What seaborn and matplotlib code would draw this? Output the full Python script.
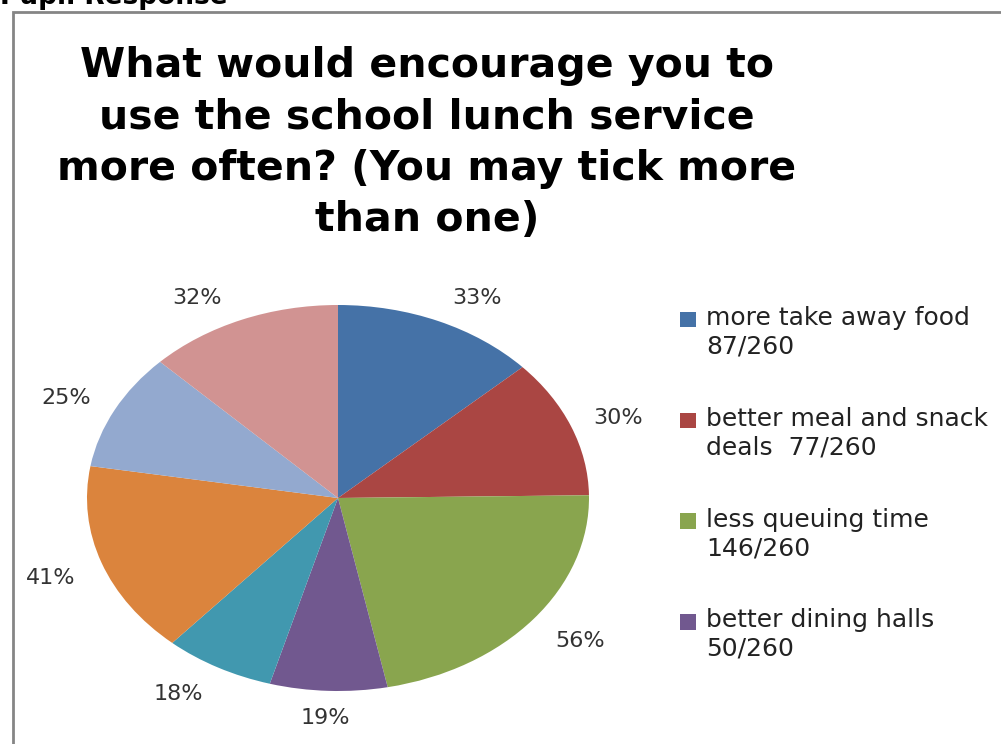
import matplotlib
matplotlib.use("Agg")
import matplotlib.pyplot as plt
import matplotlib.patches as mpatches
from matplotlib.legend_handler import HandlerBase
import seaborn as sns
import numpy as np

# ---- data ----
categories = ["more take away food", "better meal and snack deals", "less queuing time",
              "better dining halls", "option 5", "option 6", "option 7", "option 8"]
counts = [87, 77, 146, 50, 47, 107, 65, 83]
respondents = 260
legend_labels = ["more take away food\n87/260", "better meal and snack\ndeals  77/260",
                 "less queuing time\n146/260", "better dining halls\n50/260"]
colors = ["#4572A7", "#AA4643", "#89A54E", "#71588F", "#4198AF", "#DB843D", "#93A9CF", "#D19392"]
title = "What would encourage you to\nuse the school lunch service\nmore often? (You may tick more\nthan one)"
header = "Pupil Response"

sns.set_theme(style="white")
plt.rcParams['font.family'] = ['DejaVu Sans']

W, H = 1001, 744
fig = plt.figure(figsize=(W / 100, H / 100), dpi=100)
fig.patch.set_facecolor("white")

# pie axes: center (338, 498) px from top, radii 251 x 193 px
cx, cy = 338, H - 498
rx, ry = 251, 193
lim = 1.25
ax = fig.add_axes([(cx - lim * rx) / W, (cy - lim * ry) / H, 2 * lim * rx / W, 2 * lim * ry / H])
pal = sns.color_palette(colors)
wedges, _ = ax.pie(counts, colors=pal, startangle=90, counterclock=False,
                   wedgeprops=dict(linewidth=0))
ax.set_aspect('auto')
ax.set_xlim(-lim, lim)
ax.set_ylim(-lim, lim)
ax.axis('off')

label_dist = [1.174, 1.19, 1.216, 1.141, 1.2, 1.216, 1.2, 1.179]
label_shift = [-4.4, -1.4, 1.4, -0.4, -3.5, 0.4, 1.7, 5.9]
for w, c, d, s in zip(wedges, counts, label_dist, label_shift):
    ang = np.deg2rad((w.theta1 + w.theta2) / 2 + s)
    ax.text(d * np.cos(ang), d * np.sin(ang), f"{round(c / respondents * 100)}%",
            ha='center', va='center', fontsize=16, color='#333333', clip_on=False)

# title
fig.text(427 / W, 1 - 143 / H, title, ha='center', va='center', fontsize=29.5,
         fontweight='bold', color='black', linespacing=1.37)

# header cut off at top
fig.text(0.0, 1 - 4 / H, header, ha='left', va='baseline', fontsize=19,
         fontweight='bold', color='black')

# border
fig.patches.append(mpatches.Rectangle((12.5 / W, -0.1), 1.2, (H - 12.5) / H + 0.1,
                                      transform=fig.transFigure, fill=False,
                                      edgecolor='#858585', linewidth=2, zorder=0))


class TopSquare(HandlerBase):
    def create_artists(self, legend, orig_handle, xdescent, ydescent, width, height,
                       fontsize, trans):
        s = 0.62 * fontsize
        r = mpatches.Rectangle((-xdescent, -ydescent + height - s + 0.02 * fontsize), s, s,
                               facecolor=orig_handle.get_facecolor(), edgecolor='none',
                               transform=trans)
        return [r]


handles = [mpatches.Patch(facecolor=pal[i], edgecolor='none') for i in range(len(legend_labels))]
leg = fig.legend(handles, legend_labels, loc='upper left', bbox_to_anchor=(680 / W, 1 - 306 / H),
                 frameon=False, fontsize=18, handlelength=0.68, handleheight=2.3,
                 handletextpad=0.38, labelspacing=1.92, borderpad=0, borderaxespad=0,
                 handler_map={mpatches.Patch: TopSquare()})
for t in leg.get_texts():
    t.set_color('#222222')
    t.set_linespacing(1.25)

fig.savefig("out.png", dpi=100)
